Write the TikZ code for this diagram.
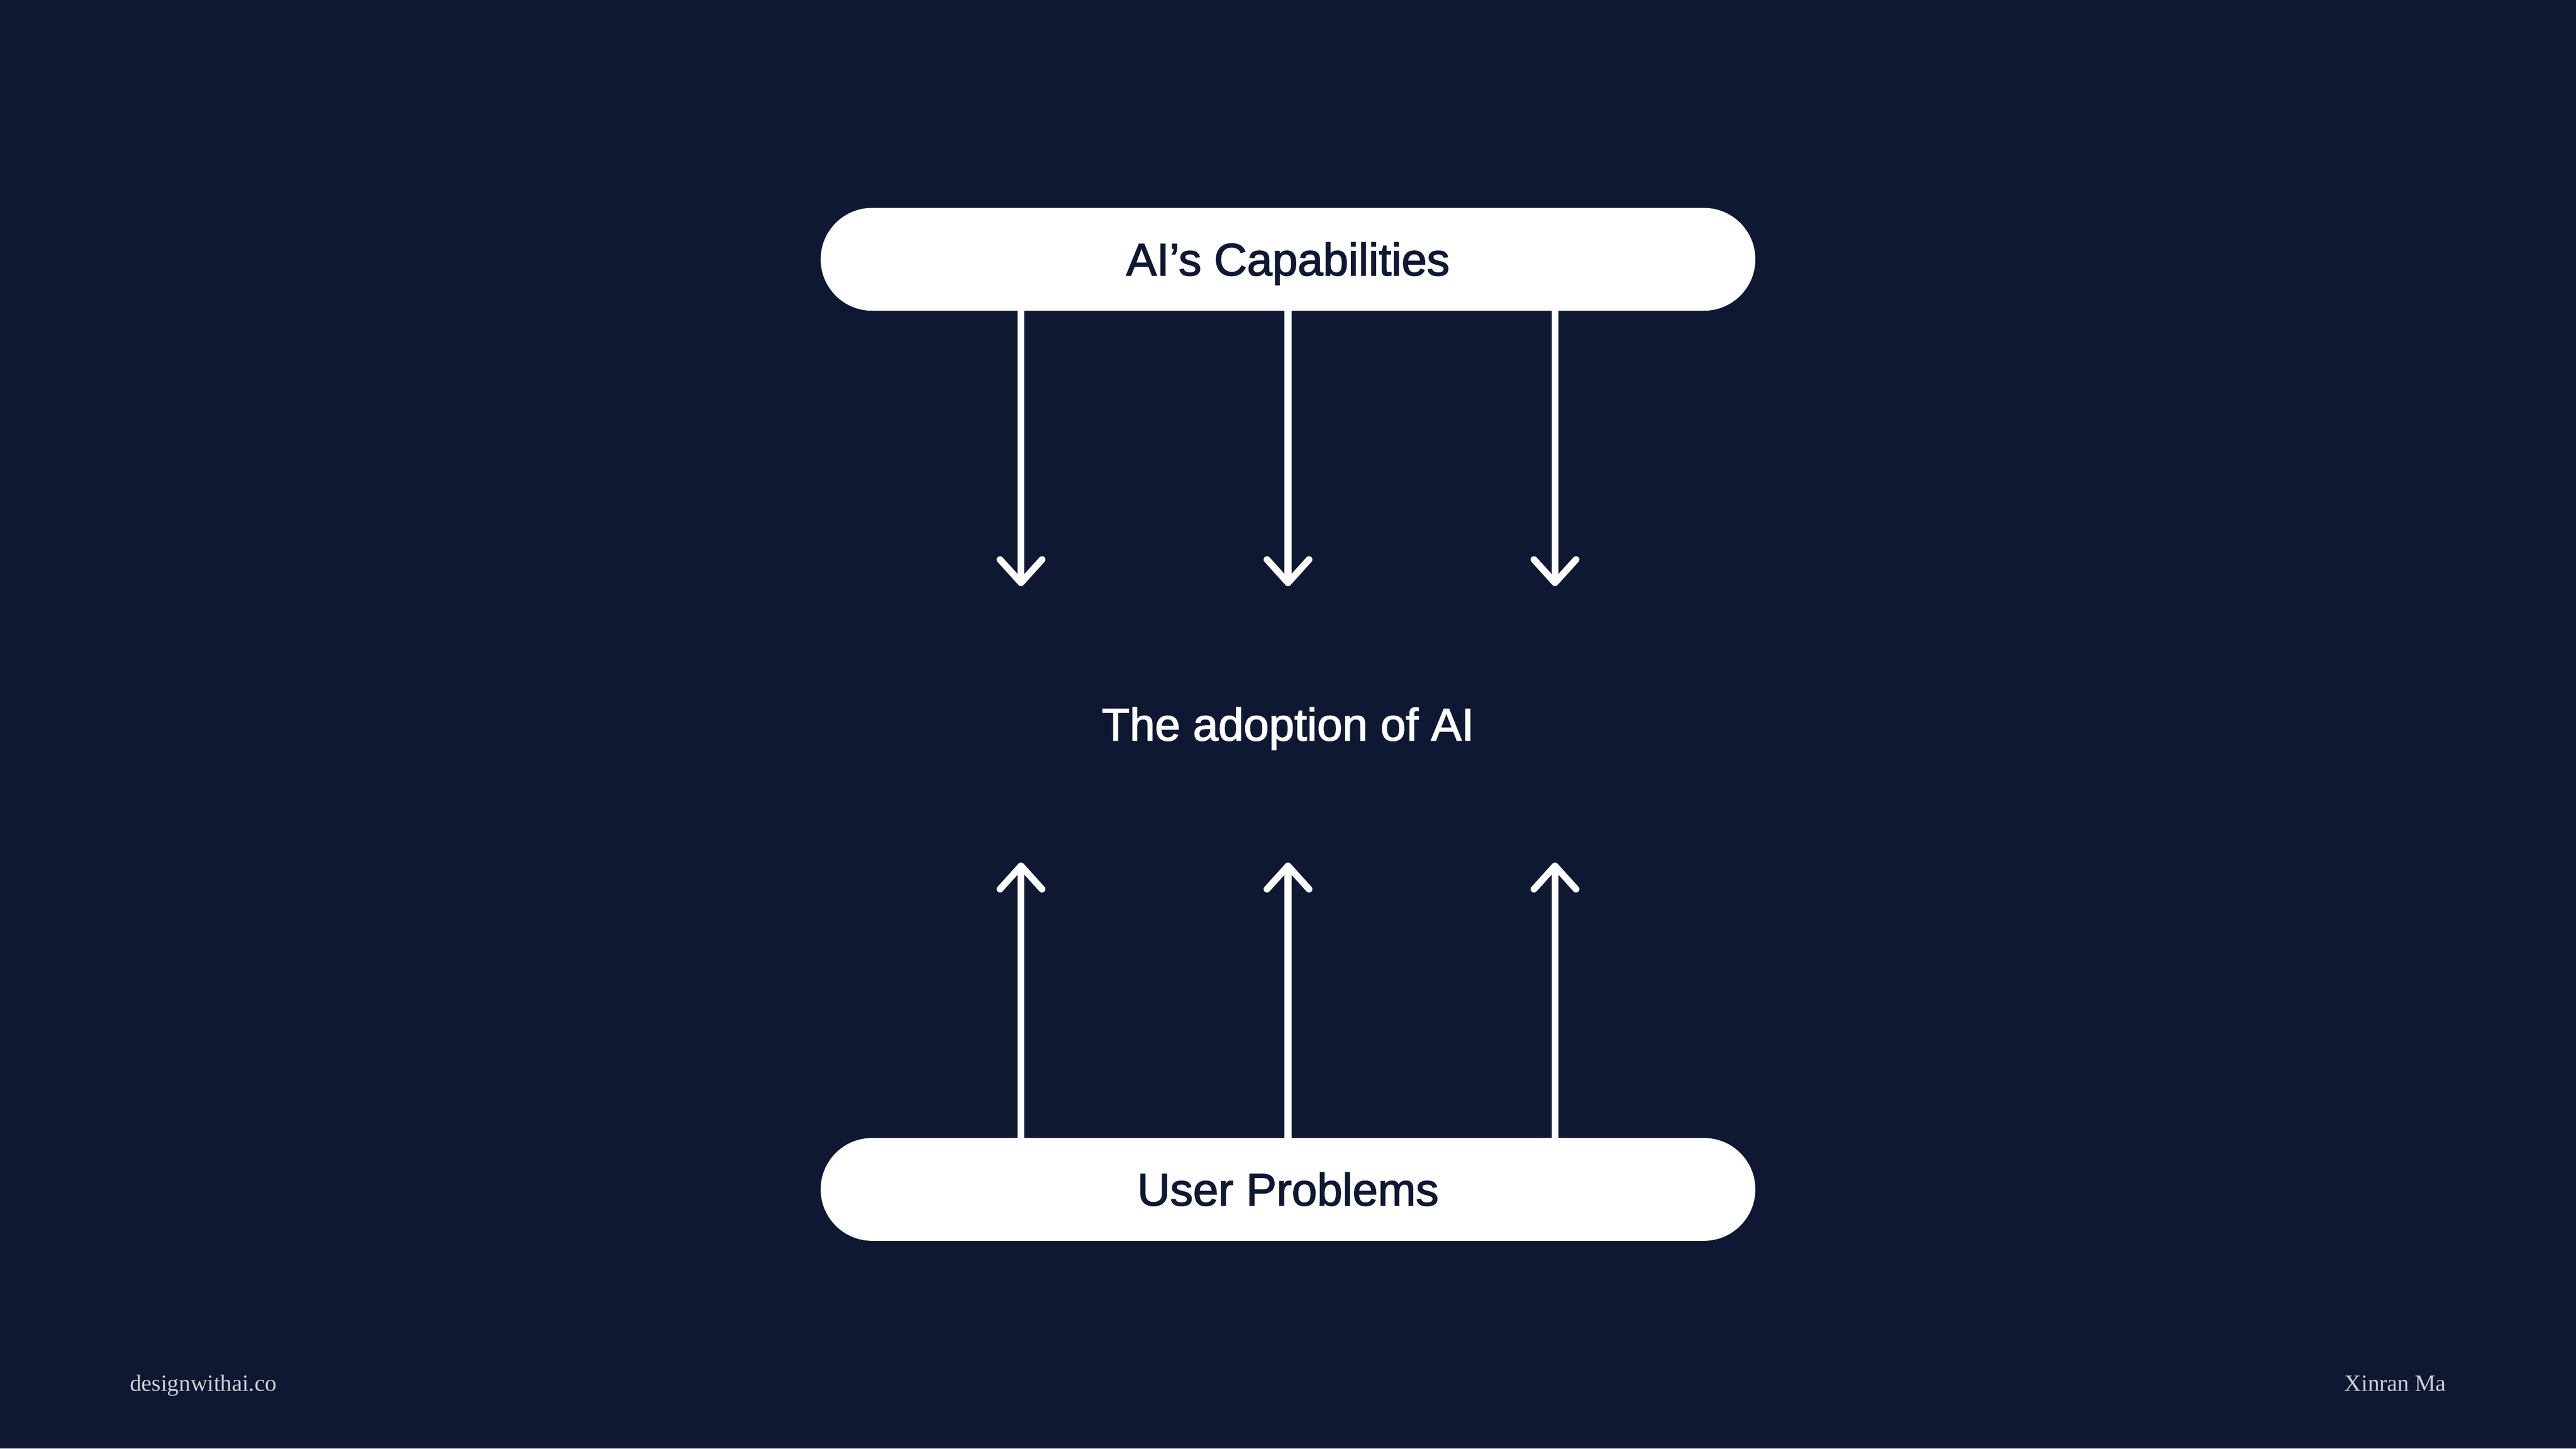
\documentclass[tikz,border=0pt]{standalone}
\usepackage{fontspec}
\usepackage{tikz}
\usetikzlibrary{arrows.meta}
\newfontfamily\labelfont[FakeBold=2]{Liberation Sans}
\newfontfamily\footfont{Liberation Serif}
\definecolor{navy}{HTML}{0E1833}
\definecolor{footgray}{HTML}{CFD0D5}

\begin{document}
\begin{tikzpicture}[>={Straight Barb[length=5.2mm,width=9.4mm,line cap=round,line join=round]},line width=4.3pt]
	\tikzset{
		pill/.style={fill=white,draw=none,rounded corners=1.15cm,minimum width=20.9cm,minimum height=2.3cm,inner sep=0pt,outer sep=0pt,
			text=navy,font=\labelfont\fontsize{29pt}{34pt}\selectfont,text height=0.72cm,text depth=0cm},
		midlabel/.style={inner sep=0pt,text=white,font=\labelfont\fontsize{29pt}{34pt}\selectfont,text height=0.72cm,text depth=0cm},
		footlabel/.style={inner sep=0pt,text=footgray,font=\footfont\fontsize{14.8pt}{18pt}\selectfont},
		flow/.style={->,draw=white,line cap=butt}
	}
	%background
	\fill[navy] (0,0) rectangle (57.6,32.4);
	
	%pills
	\node[pill] (caps) at (28.8,26.6) {AI’s Capabilities};
	\node[pill] (probs) at (28.8,5.8) {User Problems};
	
	%middle label
	\node[midlabel] (adopt) at (28.8,16.2) {The adoption of AI};
	
	%arrow tips
	\coordinate (d1) at (22.83,19.29);
	\coordinate (d2) at (28.80,19.29);
	\coordinate (d3) at (34.77,19.29);
	\coordinate (u1) at (22.83,13.11);
	\coordinate (u2) at (28.80,13.11);
	\coordinate (u3) at (34.77,13.11);
	
	%arrows
	\foreach \i in {1,2,3}{
		\draw[flow] (caps.south -| d\i)--(d\i);		%down
		\draw[flow] (probs.north -| u\i)--(u\i);	%up
	}
	
	%footer
	\node[footlabel,anchor=base west] (site) at (2.83,1.29) {designwithai.co};
	\node[footlabel,anchor=base east] (name) at (54.77,1.29) {Xinran Ma};
\end{tikzpicture}
\end{document}
